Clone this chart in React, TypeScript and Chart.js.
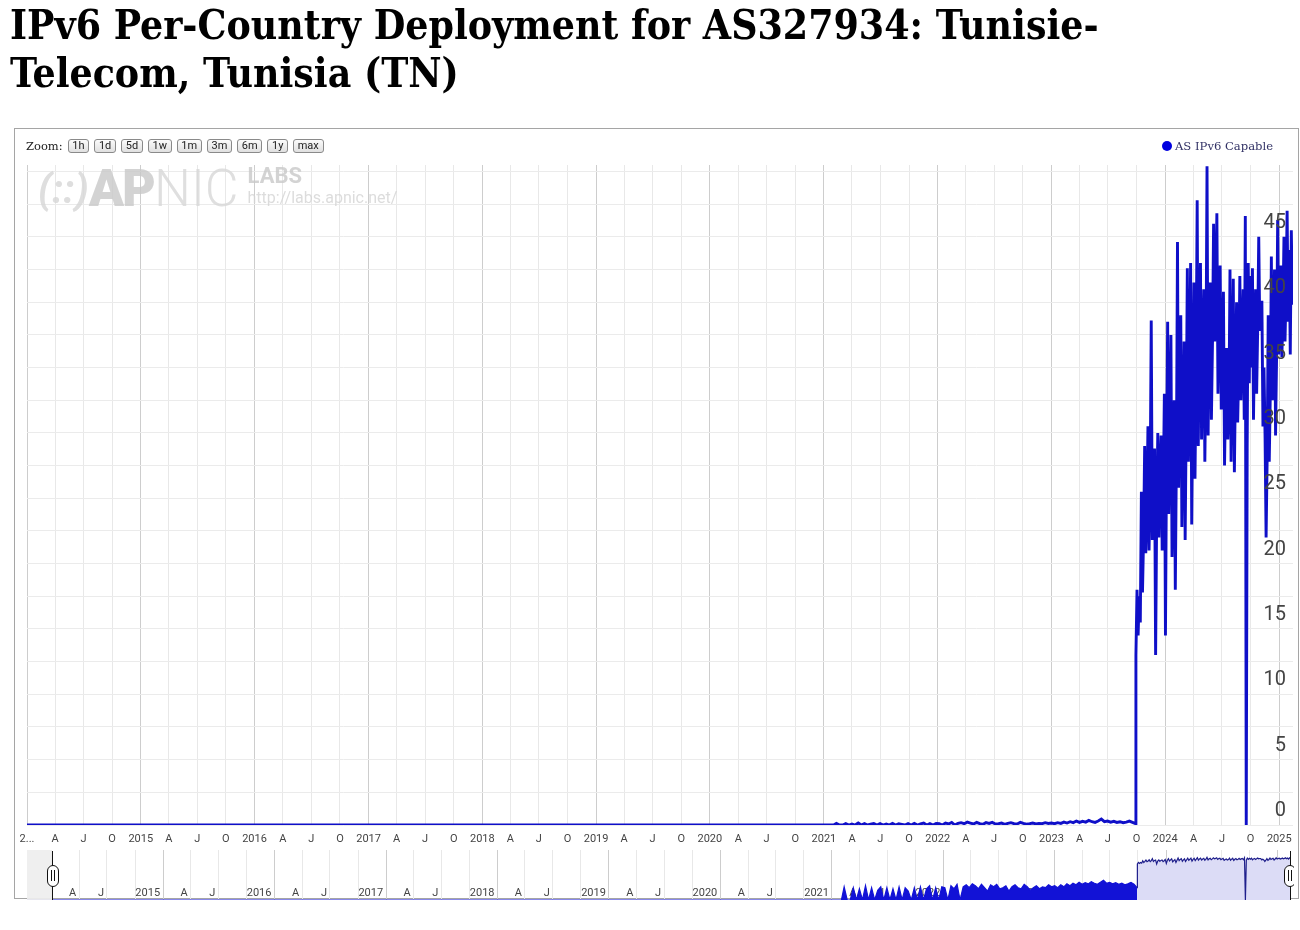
import { useEffect, useRef } from 'react'
import { Chart, registerables } from 'chart.js'

Chart.register(...registerables)

const DAY = 86400000
const toDay = (s: string) => Date.parse(s + 'T00:00:00Z') / DAY

// visible window of the main chart and of the range navigator under it
const viewStart = '2014-01-01'
const viewEnd = '2025-02-14'
const navStart = '2013-10-12'
const navEnd = '2025-02-20'

// AS IPv6 Capable (%), nothing at all before 2021
const flatDates = ['2013-10-12', '2021-02-01']
const flatValues = [0, 0]

// tiny blips 2021 - Sep 2023, one reading every 10 days
const lowStart = '2021-02-10'
const lowStepDays = 10
const lowValues = [
  0.12, 0, 0, 0.1, 0, 0.08, 0, 0.15, 0, 0.1, 0, 0.06, 0.12, 0, 0.1, 0, 0.08, 0, 0.12, 0, 0.1, 0.05, 0, 0.1,
  0, 0.12, 0, 0.08, 0.15, 0, 0.1, 0, 0.12,
  0.1, 0, 0.15, 0.08, 0.2, 0, 0.12, 0.18, 0.1, 0.22, 0.15, 0.08, 0.2, 0.1, 0.05, 0.18, 0.12, 0.2, 0.08, 0.1,
  0.15, 0.05, 0.12, 0.18, 0.1, 0.08, 0.2, 0.12, 0.06, 0.1, 0.15, 0.08, 0.12, 0.1, 0.18, 0.12,
  0.15, 0.1, 0.18, 0.12, 0.22, 0.15, 0.25, 0.18, 0.3, 0.2, 0.28, 0.22, 0.35, 0.25, 0.2, 0.3, 0.45, 0.25,
  0.3, 0.22, 0.28, 0.2, 0.25, 0.18, 0.22, 0.3, 0.2,
]
const preSwitchDates = ['2023-09-28']
const preSwitchValues = [0.1]

// switch-on at the end of Sep 2023 until the one-day outage in Sep 2024, spread evenly
const riseStart = '2023-09-29'
const riseEnd = '2024-09-14'
const riseValues = [
  13, 18, 14.5, 17.5, 15.5, 25.5, 17.8, 22, 29, 20.8, 24, 30.5, 21, 26, 38.6, 21.8, 27,
  28.8, 13, 24, 30, 22, 27, 29.8, 21, 25.5, 33, 14.5, 28, 38.5, 23.8, 30, 37.5, 20.5, 26,
  32.5, 18, 28, 44.6, 25.8, 33, 39, 22.8, 30, 37, 21.8, 31, 42.6, 27.8, 34, 43, 23, 33,
  41.5, 26.5, 35, 47.8, 29, 37, 43, 29.5, 36, 41, 27.8, 35, 50.4, 29.8, 38, 41.5, 31, 37,
  46, 37, 41, 46.8, 33, 39, 42.8, 31.8, 36, 40.8, 27.5, 33, 36.5, 29.5, 32, 42.5, 27.8, 35,
  41.8, 27, 34, 40, 30.8, 35, 42, 32.5, 37, 41, 31, 46.6,
]
const outageDates = ['2024-09-17']
const outageValues = [0]
const resumeStart = '2024-09-20'
const resumeEnd = '2025-02-12'
const resumeValues = [
  28.8, 43, 33.8, 42, 35, 42.6, 31, 37, 41, 33, 38, 45, 37.8, 40, 40, 30.5, 35, 29.8, 22, 28,
  39, 27.8, 33, 43.5, 32.5, 38, 42.5, 29.8, 36, 46.3, 36, 40, 42.8, 35.8, 39, 45, 37, 41,
  47, 38.5, 44, 36, 45.5, 39.8,
]

const yLabels = [0, 5, 10, 15, 20, 25, 30, 35, 40, 45]
const yGridStep = 2.5
const yMax = 50.5
const quarterMonths = [0, 3, 6, 9]
const monthLetters: Record<number, string> = { 3: 'A', 6: 'J', 9: 'O' }
const firstLabel = '2...'
const navFloor = 0.008
const navCeil = 230

const zoomButtons = ['1h', '1d', '5d', '1w', '1m', '3m', '6m', '1y', 'max']
const seriesLabel = 'AS IPv6 Capable'

const lineColor = '#0f0fc8'
const navLine = '#1f1f8c'
const navLowColor = '#1212d6'
const navFill = '#dcdcf6'

function spread(start: string, end: string, values: number[]) {
  const a = toDay(start)
  const step = values.length > 1 ? (toDay(end) - a) / (values.length - 1) : 0
  return values.map((y, i) => ({ x: a + i * step, y }))
}

function buildPoints() {
  const pts: { x: number; y: number }[] = []
  flatDates.forEach((d, i) => pts.push({ x: toDay(d), y: flatValues[i] }))
  const l0 = toDay(lowStart)
  lowValues.forEach((v, i) => pts.push({ x: l0 + i * lowStepDays, y: v }))
  preSwitchDates.forEach((d, i) => pts.push({ x: toDay(d), y: preSwitchValues[i] }))
  pts.push(...spread(riseStart, riseEnd, riseValues))
  outageDates.forEach((d, i) => pts.push({ x: toDay(d), y: outageValues[i] }))
  pts.push(...spread(resumeStart, resumeEnd, resumeValues))
  return pts
}

function quarterTicks(min: number, max: number) {
  const out: number[] = []
  const y0 = new Date(min * DAY).getUTCFullYear()
  const y1 = new Date(max * DAY).getUTCFullYear()
  for (let y = y0; y <= y1; y++) {
    for (const m of quarterMonths) {
      const v = Date.UTC(y, m, 1) / DAY
      if (v >= min && v <= max) out.push(v)
    }
  }
  return out
}

function month(v: number) {
  return new Date(v * DAY).getUTCMonth()
}

function quarterLabel(v: number) {
  const m = month(v)
  return m === 0 ? String(new Date(v * DAY).getUTCFullYear()) : monthLetters[m]
}

function gridColor(c: any) {
  const v = c.tick?.value
  if (v === undefined) return '#e8e8e8'
  return month(v) === 0 ? '#cdcdcd' : '#e8e8e8'
}

const points = buildPoints()

function MainChart() {
  const canvasRef = useRef<HTMLCanvasElement>(null)

  useEffect(() => {
    if (!canvasRef.current) return
    const min = toDay(viewStart)
    const max = toDay(viewEnd)

    const labels = {
      id: 'mainLabels',
      afterDatasetsDraw(chart: any) {
        const { ctx, chartArea, scales } = chart
        ctx.save()
        ctx.fillStyle = '#444'
        ctx.font = '20px Roboto'
        ctx.textAlign = 'right'
        ctx.textBaseline = 'middle'
        for (const v of yLabels) {
          ctx.fillText(String(v), chartArea.right - 7, scales.y.getPixelForValue(v) - 14)
        }
        ctx.font = '11px Roboto'
        ctx.textAlign = 'center'
        for (const t of quarterTicks(min, max)) {
          const text = t === min ? firstLabel : quarterLabel(t)
          ctx.fillText(text, scales.x.getPixelForValue(t), chartArea.bottom + 14)
        }
        ctx.restore()
      },
    }

    const chart = new Chart(canvasRef.current, {
      type: 'line',
      data: {
        datasets: [
          {
            label: seriesLabel,
            data: points,
            borderColor: lineColor,
            borderWidth: 2.9,
            pointRadius: 0,
            tension: 0,
            fill: false,
          },
        ],
      },
      options: {
        animation: false,
        responsive: false,
        events: [],
        layout: { padding: { left: 13, right: 6, top: 5, bottom: 23 } },
        plugins: { legend: { display: false }, tooltip: { enabled: false } },
        scales: {
          x: {
            type: 'linear',
            min,
            max,
            afterBuildTicks: (axis: any) => {
              axis.ticks = quarterTicks(min, max).map((value) => ({ value }))
            },
            grid: { color: gridColor, drawTicks: false },
            border: { display: false },
            ticks: { display: false },
          },
          y: {
            position: 'right',
            min: 0,
            max: yMax,
            afterBuildTicks: (axis: any) => {
              const ticks = []
              for (let v = 0; v <= yMax; v += yGridStep) ticks.push({ value: v })
              axis.ticks = ticks
            },
            grid: { color: '#ebebeb', drawTicks: false },
            border: { display: false },
            ticks: { display: false },
          },
        },
      } as any,
      plugins: [labels],
    })

    return () => chart.destroy()
  }, [])

  return (
    <canvas
      ref={canvasRef}
      width={1285}
      height={688}
      style={{ position: 'absolute', left: 6, top: 152, width: 1285, height: 688 }}
    />
  )
}

function Navigator() {
  const canvasRef = useRef<HTMLCanvasElement>(null)

  useEffect(() => {
    if (!canvasRef.current) return
    const min = toDay(navStart)
    const max = toDay(navEnd)
    const firstShown = toDay(viewStart)
    const switchOn = toDay(riseStart)

    const labels = {
      id: 'navLabels',
      beforeDatasetsDraw(chart: any) {
        const { ctx, chartArea, scales } = chart
        ctx.save()
        ctx.fillStyle = '#444'
        ctx.font = '11px Roboto'
        ctx.textAlign = 'right'
        ctx.textBaseline = 'middle'
        for (const t of quarterTicks(min, max)) {
          if (t <= firstShown || month(t) === 9) continue
          ctx.fillText(quarterLabel(t), scales.x.getPixelForValue(t) - 3, chartArea.bottom - 7)
        }
        ctx.restore()
      },
    }

    const chart = new Chart(canvasRef.current, {
      type: 'line',
      data: {
        datasets: [
          {
            data: points.map((p) => ({ x: p.x, y: p.y > 0 ? p.y : navFloor })),
            borderColor: navLine,
            borderWidth: 1.2,
            pointRadius: 0,
            tension: 0,
            fill: 'start',
            backgroundColor: navFill,
            segment: {
              backgroundColor: (c: any) => (c.p1.parsed.x < switchOn ? navLowColor : undefined),
              borderColor: (c: any) => (c.p1.parsed.x < switchOn ? navLowColor : undefined),
            },
          },
        ],
      },
      options: {
        animation: false,
        responsive: false,
        events: [],
        layout: { padding: 0 },
        plugins: { legend: { display: false }, tooltip: { enabled: false } },
        scales: {
          x: {
            type: 'linear',
            min,
            max,
            afterBuildTicks: (axis: any) => {
              axis.ticks = quarterTicks(min, max).map((value) => ({ value }))
            },
            grid: { color: gridColor, drawTicks: false },
            border: { display: false },
            ticks: { display: false },
          },
          y: { type: 'logarithmic', min: navFloor, max: navCeil, display: false },
        },
      } as any,
      plugins: [labels],
    })

    return () => chart.destroy()
  }, [])

  return (
    <canvas
      ref={canvasRef}
      width={1266}
      height={50}
      style={{ position: 'absolute', left: 19, top: 842, width: 1266, height: 50 }}
    />
  )
}

function Handle({ x }: { x: number }) {
  return (
    <>
      <div style={{ position: 'absolute', left: x - 0.5, top: 1, width: 1.2, height: 49, background: '#111' }} />
      <div
        style={{
          position: 'absolute',
          left: x - 6,
          top: 15,
          width: 12,
          height: 22,
          boxSizing: 'border-box',
          border: '1.5px solid #111',
          borderRadius: 6,
          background: '#fff',
        }}
      >
        <div style={{ position: 'absolute', left: 3, top: 4, width: 1.3, height: 11, background: '#111' }} />
        <div style={{ position: 'absolute', left: 6, top: 4, width: 1.3, height: 11, background: '#111' }} />
      </div>
    </>
  )
}

export default function App() {
  return (
    <div style={{ position: 'fixed', left: 8, top: 8, width: 1284, height: 914 }}>
      <h1
        style={{
          position: 'absolute',
          left: 2,
          top: -7,
          margin: 0,
          width: 1240,
          fontFamily: '"DejaVu Serif"',
          fontStretch: 'condensed',
          fontWeight: 700,
          fontSize: 40.5,
          lineHeight: '48px',
          color: '#000',
          whiteSpace: 'nowrap',
        }}
      >
        IPv6 Per-Country Deployment for AS327934: Tunisie-
        <br />
        Telecom, Tunisia (TN)
      </h1>

      <div
        style={{
          position: 'absolute',
          left: 6,
          top: 120,
          width: 1285,
          height: 771,
          border: '1px solid #a5a5a5',
          boxSizing: 'border-box',
          background: '#fff',
        }}
      />

      <MainChart />

      <div
        style={{
          position: 'absolute',
          left: 30,
          top: 157,
          pointerEvents: 'none',
          color: '#c9c9c9',
          opacity: 0.8,
          fontFamily: 'Roboto',
          display: 'flex',
          alignItems: 'flex-start',
          whiteSpace: 'nowrap',
        }}
      >
        <span style={{ fontSize: 41, lineHeight: '48px', fontWeight: 700, fontStyle: 'italic', color: '#d6d6d6' }}>
          (::)
        </span>
        <span style={{ fontSize: 52, lineHeight: '48px', fontWeight: 900, letterSpacing: -2 }}>AP</span>
        <span style={{ fontSize: 52, lineHeight: '48px', fontWeight: 300, color: '#d8d8d8' }}>NIC</span>
        <span style={{ display: 'flex', flexDirection: 'column', marginLeft: 9 }}>
          <span style={{ fontSize: 22, lineHeight: '22px', fontWeight: 700 }}>LABS</span>
          <span style={{ fontSize: 16, lineHeight: '22px', color: '#d4d4d4' }}>http://labs.apnic.net/</span>
        </span>
      </div>

      <div
        style={{
          position: 'absolute',
          left: 18,
          top: 130,
          height: 16,
          display: 'flex',
          alignItems: 'center',
          fontFamily: '"DejaVu Serif"',
          fontSize: 11.5,
          color: '#222',
        }}
      >
        <span style={{ marginRight: 5 }}>Zoom:</span>
        {zoomButtons.map((b) => (
          <span
            key={b}
            style={{
              display: 'inline-block',
              fontFamily: 'Roboto',
              fontSize: 11,
              lineHeight: '12px',
              padding: '0 3.7px',
              border: '1px solid #8a8a8a',
              borderRadius: 3,
              background: 'linear-gradient(#fbfbfb, #e0e0e0)',
              color: '#222',
              marginRight: 5,
            }}
          >
            {b}
          </span>
        ))}
      </div>

      <div
        style={{
          position: 'absolute',
          left: 1154,
          top: 130,
          height: 16,
          display: 'flex',
          alignItems: 'center',
          fontFamily: '"DejaVu Serif"',
          fontSize: 11.6,
          color: '#333366',
          whiteSpace: 'nowrap',
        }}
      >
        <span
          style={{ display: 'inline-block', width: 10, height: 10, borderRadius: 5, background: '#0000e0', marginRight: 3 }}
        />
        {seriesLabel}
      </div>

      <Navigator />

      <div style={{ position: 'absolute', left: 19, top: 842, width: 1267, height: 50, overflow: 'hidden' }}>
        <div style={{ position: 'absolute', left: 0, top: 0, width: 25, height: 50, background: 'rgba(238,238,238,0.92)' }} />
        <Handle x={25.5} />
        <Handle x={1263} />
      </div>
    </div>
  )
}
